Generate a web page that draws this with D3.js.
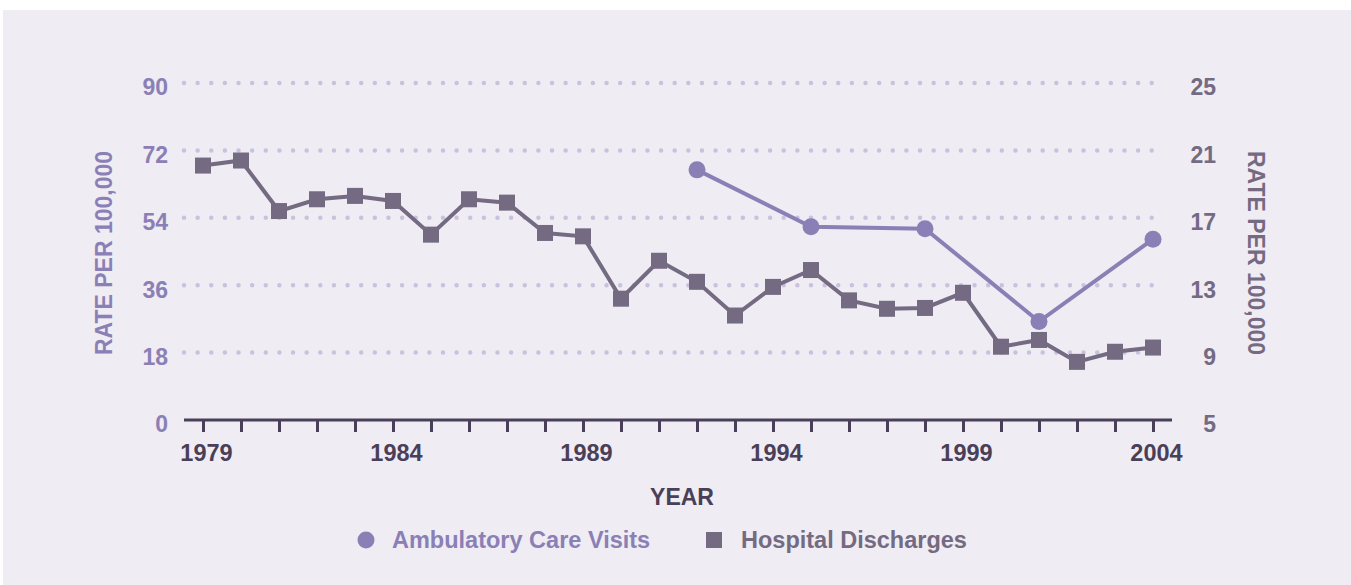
<!DOCTYPE html>
<html>
<head>
<meta charset="utf-8">
<script src="https://cdn.jsdelivr.net/npm/d3@7"></script>
<style>
  body { margin: 0; background: #ffffff; }
  svg text { font-family: "Liberation Sans", Arial, sans-serif; font-weight: bold; }
</style>
</head>
<body>
<script>
// data
var years = d3.range(1979, 2005);
var hospitalRates = [20.1, 20.4, 17.4, 18.1, 18.3, 18.0, 16.0, 18.1, 17.9, 16.1, 15.9, 12.2,
                     14.45, 13.2, 11.2, 12.9, 13.9, 12.1, 11.6, 11.65, 12.55, 9.35, 9.75, 8.45, 9.05, 9.3];
var ambulatoryYears = [1992, 1995, 1998, 2001, 2004];
var ambulatoryRates = [66.8, 51.6, 51.1, 26.3, 48.3];
var leftTicks = [0, 18, 36, 54, 72, 90];
var rightTicks = [5, 9, 13, 17, 21, 25];
var labelYears = [1979, 1984, 1989, 1994, 1999, 2004];

var W = 1351, H = 585;
var purple = "#8a80b6", grey = "#746a82", dark = "#4a3f58", dotColor = "#c9c2de";

var svg = d3.select("body").append("svg").attr("width", W).attr("height", H);

svg.append("rect").attr("x", 3).attr("y", 10).attr("width", W - 3).attr("height", H - 10)
    .attr("fill", "#efecf3");

var x = d3.scaleLinear().domain([1979, 2004]).range([203, 1153]);
var yLeft = d3.scaleLinear().domain([0, 90]).range([420, 83]);
var yRight = d3.scaleLinear().domain([5, 25]).range([420, 83]);

var gridLeft = 184, gridRight = 1165;

// dotted grid lines
svg.append("g").selectAll("line")
    .data(leftTicks.filter(function (d) { return d > 0; }))
    .enter().append("line")
    .attr("x1", gridLeft).attr("x2", gridRight)
    .attr("y1", function (d) { return yLeft(d); })
    .attr("y2", function (d) { return yLeft(d); })
    .attr("stroke", dotColor)
    .attr("stroke-width", 4.5)
    .attr("stroke-linecap", "round")
    .attr("stroke-dasharray", "0,13.63");

// x axis
var xAxisGen = d3.axisBottom(x)
    .tickValues(years)
    .tickSize(12)
    .tickPadding(10)
    .tickFormat(function (d) { return labelYears.indexOf(d) >= 0 ? d : ""; });

var xAxis = svg.append("g")
    .attr("transform", "translate(0," + yLeft(0) + ")")
    .call(xAxisGen);
xAxis.select(".domain").remove();
xAxis.selectAll(".tick line").attr("stroke", dark).attr("stroke-width", 3);
xAxis.selectAll(".tick text").attr("fill", dark).style("font-size", "23.5px")
    .attr("dx", 3).attr("y", 33).attr("dy", "0.35em");
xAxis.append("line")
    .attr("x1", gridLeft).attr("x2", 1172).attr("y1", 0).attr("y2", 0)
    .attr("stroke", dark).attr("stroke-width", 3);

// left y axis
var yLeftAxis = svg.append("g")
    .attr("transform", "translate(168,0)")
    .call(d3.axisLeft(yLeft).tickValues(leftTicks).tickSize(0).tickPadding(0));
yLeftAxis.select(".domain").remove();
yLeftAxis.selectAll(".tick text").attr("fill", purple).style("font-size", "23px")
    .attr("dy", "0.52em");

// right y axis
var yRightAxis = svg.append("g")
    .attr("transform", "translate(1216,0)")
    .call(d3.axisRight(yRight).tickValues(rightTicks).tickSize(0).tickPadding(0));
yRightAxis.select(".domain").remove();
yRightAxis.selectAll(".tick text").attr("fill", grey).style("font-size", "23px")
    .attr("text-anchor", "end").attr("dy", "0.52em");

// axis titles
svg.append("text")
    .attr("transform", "translate(104,253) rotate(-90)")
    .attr("text-anchor", "middle").attr("dy", "0.35em")
    .attr("fill", purple).style("font-size", "23px")
    .text("RATE PER 100,000");

svg.append("text")
    .attr("transform", "translate(1256,253) rotate(90)")
    .attr("text-anchor", "middle").attr("dy", "0.35em")
    .attr("fill", grey).style("font-size", "23px")
    .text("RATE PER 100,000");

svg.append("text")
    .attr("x", 682).attr("y", 497).attr("dy", "0.35em")
    .attr("text-anchor", "middle")
    .attr("fill", dark).style("font-size", "23px")
    .text("YEAR");

// hospital discharges (right axis)
var hospLine = d3.line()
    .x(function (d, i) { return x(years[i]); })
    .y(function (d) { return yRight(d); });

svg.append("path")
    .attr("d", hospLine(hospitalRates))
    .attr("fill", "none").attr("stroke", grey).attr("stroke-width", 4);

var sq = 16;
svg.append("g").selectAll("rect")
    .data(hospitalRates)
    .enter().append("rect")
    .attr("x", function (d, i) { return x(years[i]) - sq / 2; })
    .attr("y", function (d) { return yRight(d) - sq / 2; })
    .attr("width", sq).attr("height", sq)
    .attr("fill", grey);

// ambulatory care visits (left axis)
var ambLine = d3.line()
    .x(function (d, i) { return x(ambulatoryYears[i]); })
    .y(function (d) { return yLeft(d); });

svg.append("path")
    .attr("d", ambLine(ambulatoryRates))
    .attr("fill", "none").attr("stroke", purple).attr("stroke-width", 4);

svg.append("g").selectAll("circle")
    .data(ambulatoryRates)
    .enter().append("circle")
    .attr("cx", function (d, i) { return x(ambulatoryYears[i]); })
    .attr("cy", function (d) { return yLeft(d); })
    .attr("r", 8.5)
    .attr("fill", purple);

// legend
var legend = svg.append("g").attr("transform", "translate(0,540)");
legend.append("circle").attr("cx", 366).attr("cy", 0).attr("r", 8.5).attr("fill", purple);
legend.append("text").attr("x", 392).attr("y", 0).attr("dy", "0.35em")
    .attr("fill", purple).style("font-size", "23.5px").text("Ambulatory Care Visits");
legend.append("rect").attr("x", 706).attr("y", -8).attr("width", 16).attr("height", 16).attr("fill", grey);
legend.append("text").attr("x", 741).attr("y", 0).attr("dy", "0.35em")
    .attr("fill", grey).style("font-size", "23.5px").text("Hospital Discharges");
</script>
</body>
</html>
